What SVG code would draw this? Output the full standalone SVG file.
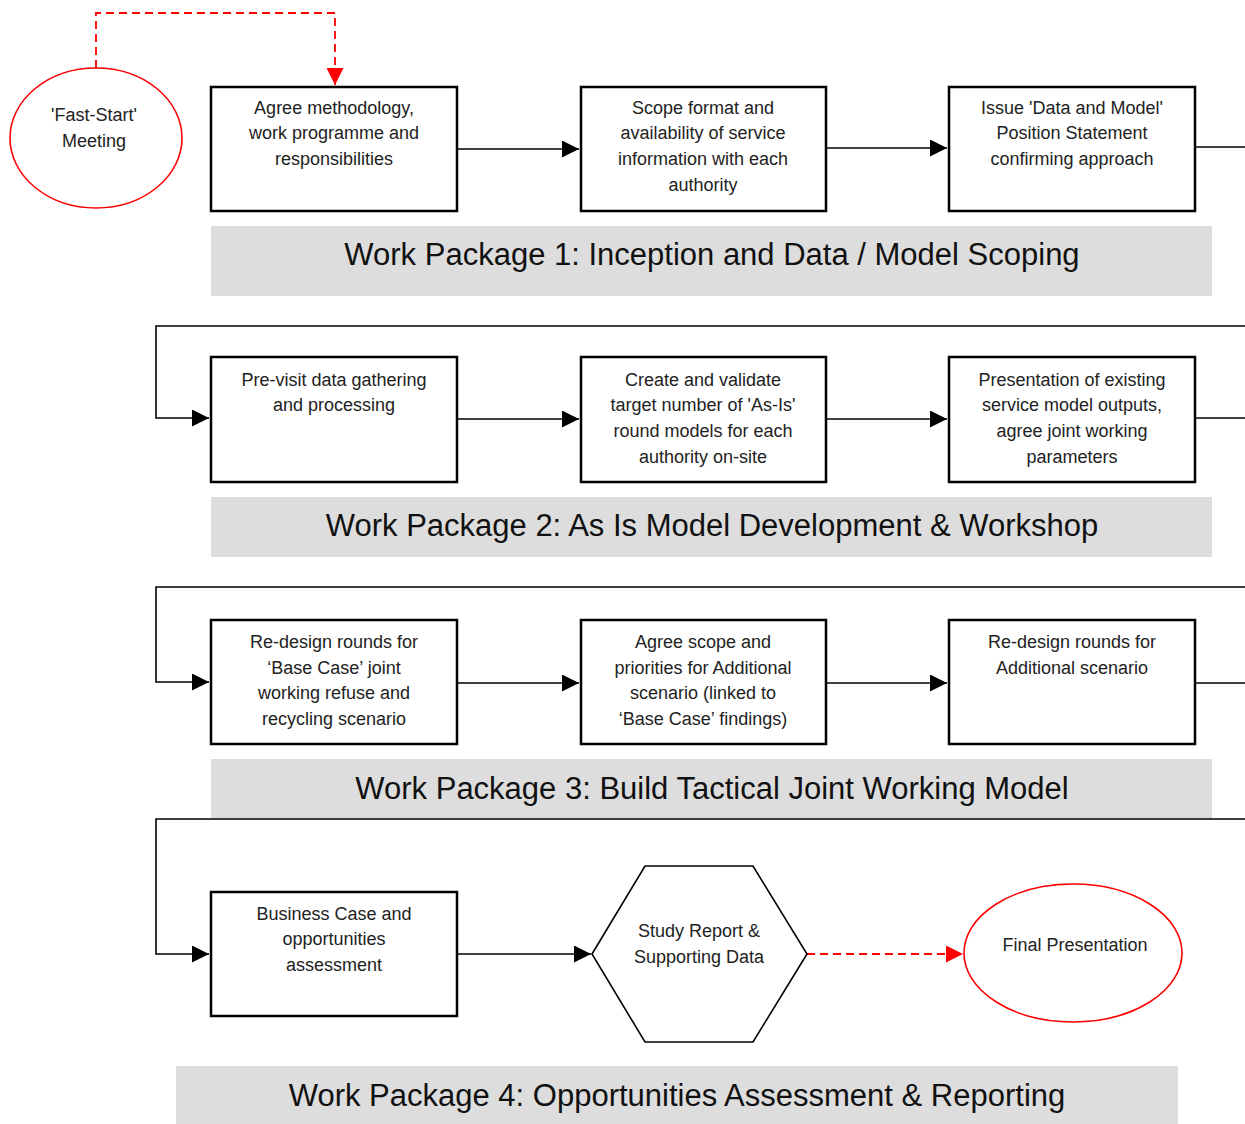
<svg xmlns="http://www.w3.org/2000/svg" width="1245" height="1124" viewBox="0 0 1245 1124">
<defs>
<marker id="ab" viewBox="0 0 10 10" refX="10" refY="5" markerWidth="19" markerHeight="17" markerUnits="userSpaceOnUse" orient="auto"><path d="M0,0 L10,5 L0,10 z" fill="#000"/></marker>
<marker id="ar" viewBox="0 0 10 10" refX="10" refY="5" markerWidth="19" markerHeight="17" markerUnits="userSpaceOnUse" orient="auto"><path d="M0,0 L10,5 L0,10 z" fill="#ff0000"/></marker>
<style>
.box{fill:#fff;stroke:#000;stroke-width:2.5}
.ell{fill:#fff;stroke:#ff0000;stroke-width:1.6}
.hex{fill:#fff;stroke:#000;stroke-width:1.6}
.ban{fill:#dddddd}
.t{font-family:"Liberation Sans",Arial,sans-serif;font-size:18px;fill:#222;text-anchor:middle}
.bt{font-family:"Liberation Sans",Arial,sans-serif;font-size:31px;fill:#111;text-anchor:middle}
.c{fill:none;stroke:#000;stroke-width:1.6}
.cd{fill:none;stroke:#ff0000;stroke-width:1.8;stroke-dasharray:8,5}
</style>
</defs>
<rect width="1245" height="1124" fill="#fff"/>

<g id="banners">
<g id="wp1"><rect class="ban" x="211" y="226" width="1001" height="70"/><text class="bt" x="712" y="265">Work Package 1: Inception and Data / Model Scoping</text></g>
<g id="wp2"><rect class="ban" x="211" y="497" width="1001" height="60"/><text class="bt" x="712" y="536">Work Package 2: As Is Model Development &amp; Workshop</text></g>
<g id="wp3"><rect class="ban" x="211" y="759" width="1001" height="60"/><text class="bt" x="712" y="799">Work Package 3: Build Tactical Joint Working Model</text></g>
<g id="wp4"><rect class="ban" x="176" y="1066" width="1002" height="58"/><text class="bt" x="677" y="1106">Work Package 4: Opportunities Assessment &amp; Reporting</text></g>
</g>

<g id="connectors">
<path class="cd" d="M96,68 V13 H335 V85" marker-end="url(#ar)"/>
<path class="c" d="M457,149 H579" marker-end="url(#ab)"/>
<path class="c" d="M826,148 H947" marker-end="url(#ab)"/>
<path class="c" d="M1196,147 H1245"/>
<path class="c" d="M1245,326 H156 V418 H209" marker-end="url(#ab)"/>
<path class="c" d="M457,419 H579" marker-end="url(#ab)"/>
<path class="c" d="M826,419 H947" marker-end="url(#ab)"/>
<path class="c" d="M1196,418 H1245"/>
<path class="c" d="M1245,587 H156 V682 H209" marker-end="url(#ab)"/>
<path class="c" d="M457,683 H579" marker-end="url(#ab)"/>
<path class="c" d="M826,683 H947" marker-end="url(#ab)"/>
<path class="c" d="M1196,683 H1245"/>
<path class="c" d="M1245,819 H156 V954 H209" marker-end="url(#ab)"/>
<path class="c" d="M457,954 H591" marker-end="url(#ab)"/>
<path class="cd" d="M807,954 H963" marker-end="url(#ar)"/>
</g>

<g id="fast-start"><ellipse class="ell" cx="96" cy="138" rx="86" ry="70"/><text class="t" x="94" y="121">'Fast-Start'</text><text class="t" x="94" y="147">Meeting</text></g>

<g id="n1"><rect class="box" x="211" y="87" width="246" height="124"/><text class="t" x="334" y="114">Agree methodology,</text><text class="t" x="334" y="139">work programme and</text><text class="t" x="334" y="165">responsibilities</text></g>
<g id="n2"><rect class="box" x="581" y="87" width="245" height="124"/><text class="t" x="703" y="114">Scope format and</text><text class="t" x="703" y="139">availability of service</text><text class="t" x="703" y="165">information with each</text><text class="t" x="703" y="191">authority</text></g>
<g id="n3"><rect class="box" x="949" y="87" width="246" height="124"/><text class="t" x="1072" y="114">Issue 'Data and Model'</text><text class="t" x="1072" y="139">Position Statement</text><text class="t" x="1072" y="165">confirming approach</text></g>

<g id="n4"><rect class="box" x="211" y="357" width="246" height="125"/><text class="t" x="334" y="386">Pre-visit data gathering</text><text class="t" x="334" y="411">and processing</text></g>
<g id="n5"><rect class="box" x="581" y="357" width="245" height="125"/><text class="t" x="703" y="386">Create and validate</text><text class="t" x="703" y="411">target number of 'As-Is'</text><text class="t" x="703" y="437">round models for each</text><text class="t" x="703" y="463">authority on-site</text></g>
<g id="n6"><rect class="box" x="949" y="357" width="246" height="125"/><text class="t" x="1072" y="386">Presentation of existing</text><text class="t" x="1072" y="411">service model outputs,</text><text class="t" x="1072" y="437">agree joint working</text><text class="t" x="1072" y="463">parameters</text></g>

<g id="n7"><rect class="box" x="211" y="620" width="246" height="124"/><text class="t" x="334" y="648">Re-design rounds for</text><text class="t" x="334" y="674">‘Base Case’ joint</text><text class="t" x="334" y="699">working refuse and</text><text class="t" x="334" y="725">recycling scenario</text></g>
<g id="n8"><rect class="box" x="581" y="620" width="245" height="124"/><text class="t" x="703" y="648">Agree scope and</text><text class="t" x="703" y="674">priorities for Additional</text><text class="t" x="703" y="699">scenario (linked to</text><text class="t" x="703" y="725">‘Base Case’ findings)</text></g>
<g id="n9"><rect class="box" x="949" y="620" width="246" height="124"/><text class="t" x="1072" y="648">Re-design rounds for</text><text class="t" x="1072" y="674">Additional scenario</text></g>

<g id="n10"><rect class="box" x="211" y="892" width="246" height="124"/><text class="t" x="334" y="920">Business Case and</text><text class="t" x="334" y="945">opportunities</text><text class="t" x="334" y="971">assessment</text></g>
<g id="n11"><polygon class="hex" points="592,954 645,866 753,866 807,954 753,1042 645,1042"/><text class="t" x="699" y="937">Study Report &amp;</text><text class="t" x="699" y="963">Supporting Data</text></g>
<g id="n12"><ellipse class="ell" cx="1073" cy="953" rx="109" ry="69"/><text class="t" x="1075" y="951">Final Presentation</text></g>
</svg>
